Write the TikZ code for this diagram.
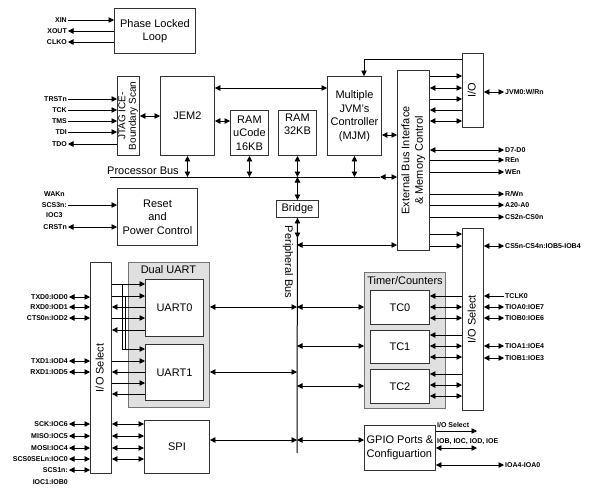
\documentclass[tikz,border=0pt]{standalone}
\usepackage{fontspec}
\setmainfont{Liberation Sans}
\usetikzlibrary{arrows.meta,positioning}
\newcommand{\vstack}[2][90]{\rotatebox{#1}{\begin{tabular}{@{}c@{}}#2\end{tabular}}}

\begin{document}
\begin{tikzpicture}[
  x=1pt, y=-1pt,
  box/.style={draw=black!80, line width=0.9pt, fill=white, align=center, inner sep=0pt, anchor=north west, font=\fontsize{11}{13.5}\selectfont},
  grp/.style={draw=black!55, line width=0.9pt, fill=black!12, anchor=north west, inner sep=0pt},
  title/.style={font=\fontsize{11}{13}\selectfont, inner sep=0pt},
  lpin/.style={font=\fontsize{7}{10.5}\selectfont\bfseries, align=center, inner sep=1pt, anchor=east},
  rpin/.style={font=\fontsize{7}{10.5}\selectfont\bfseries, inner sep=1pt, anchor=west},
  arrow/.style={-{Triangle[length=5.5pt,width=5.5pt]}, line width=0.8pt},
  biarrow/.style={{Triangle[length=5.5pt,width=5.5pt]}-{Triangle[length=5.5pt,width=5.5pt]}, line width=0.8pt},
  bus/.style={line width=1pt}
]
\useasboundingbox (0,0) rectangle (596,491);

% Groups
\node[grp, minimum width=81pt, minimum height=145pt] (uartg) at (128,262) {};
\node[grp, minimum width=81pt, minimum height=136pt] (timg) at (364,272) {};
\node[title] (uartt) at (168.5,270) {Dual UART};
\node[title] (timt) at (405,281) {Timer/Counters};

% Blocks
\node[box, minimum width=81pt, minimum height=45pt] (pll) at (114,8) {Phase Locked\\Loop};
\node[box, minimum width=22pt, minimum height=79pt, font=\fontsize{10}{10.5}\selectfont] (jtag) at (117,76) {\vstack{JTAG ICE-\\Boundary Scan}};
\node[box, minimum width=54pt, minimum height=79pt] (jem) at (160,76) {JEM2};
\node[box, minimum width=38pt, minimum height=45pt] (ramu) at (230,110) {RAM\\uCode\\16KB};
\node[box, minimum width=38pt, minimum height=45pt] (ram) at (278,110) {RAM\\32KB\\\strut};
\node[box, minimum width=54pt, minimum height=79pt] (mjm) at (327,76) {Multiple\\JVM's\\Controller\\(MJM)};
\node[box, minimum width=32pt, minimum height=180pt] (ebi) at (397,70) {\vstack{External Bus Interface\\\& Memory Control}};
\node[box, minimum width=21pt, minimum height=74pt] (ioa) at (462,53) {\vstack{I/O}};
\node[box, minimum width=21pt, minimum height=182pt] (iob) at (462,228) {\vstack{I/O Select}};
\node[box, minimum width=80pt, minimum height=57pt] (reset) at (117,188) {Reset\\and\\Power Control};
\node[box, minimum width=42pt, minimum height=17pt] (bridge) at (276,200) {Bridge};
\node[box, minimum width=21pt, minimum height=211pt] (ioc) at (90,262) {\vstack{I/O Select}};
\node[box, minimum width=58pt, minimum height=57pt] (uart0) at (145,279) {UART0};
\node[box, minimum width=58pt, minimum height=56pt] (uart1) at (145,344) {UART1};
\node[box, minimum width=65pt, minimum height=53pt] (spi) at (144,420) {SPI};
\node[box, minimum width=59pt, minimum height=34pt] (tc0) at (370,290) {TC0};
\node[box, minimum width=59pt, minimum height=33pt] (tc1) at (370,330) {TC1};
\node[box, minimum width=59pt, minimum height=34pt] (tc2) at (370,369) {TC2};
\node[box, minimum width=71pt, minimum height=45pt, align=left] (gpio) at (364,425) {GPIO Ports \&\\Configuartion};

% Bus labels
\node[title, anchor=south west] (pbl) at (107,175) {Processor Bus};
\node[title, rotate=-90] (pbusl) at (288,262) {Peripheral Bus};
\coordinate (pb0) at (110,177);
\coordinate (pb1) at (380,177);
\coordinate (pbb) at (297,453);

% Left pins
\node[lpin] (xin) at (68,20) {XIN};
\node[lpin] (xout) at (68,31) {XOUT};
\node[lpin] (clko) at (68,42) {CLKO};
\node[lpin] (trst) at (68,99) {TRSTn};
\node[lpin] (tck) at (68,110) {TCK};
\node[lpin] (tms) at (68,121) {TMS};
\node[lpin] (tdi) at (68,132) {TDI};
\node[lpin] (tdo) at (68,144) {TDO};
\node[lpin] (wak) at (68,205) {WAKn\\SCS3n:\\IOC3};
\node[lpin] (crst) at (68,227) {CRSTn};
\node[lpin] (txd0) at (69,297) {TXD0:IOD0};
\node[lpin] (rxd0) at (69,307) {RXD0:IOD1};
\node[lpin] (cts0) at (69,318) {CTS0n:IOD2};
\node[lpin] (txd1) at (69,361) {TXD1:IOD4};
\node[lpin] (rxd1) at (69,372) {RXD1:IOD5};
\node[lpin] (sck) at (69,424) {SCK:IOC6};
\node[lpin] (miso) at (69,436) {MISO:IOC5};
\node[lpin] (mosi) at (69,448) {MOSI:IOC4};
\node[lpin] (scs0) at (69,459) {SCS0SELn:IOC0};
\node[lpin] (scs1) at (69,470) {SCS1n:};
\node[lpin] (ioc1) at (69,482) {IOC1:IOB0};

% Right pins
\node[rpin] (jvm) at (504,92) {JVM0:W/Rn};
\node[rpin] (d70) at (504,150) {D7-D0};
\node[rpin] (ren) at (504,160) {REn};
\node[rpin] (wen) at (504,172) {WEn};
\node[rpin] (rwn) at (504,194) {R/Wn};
\node[rpin] (addr) at (504,205) {A20-A0};
\node[rpin] (cs20) at (504,217) {CS2n-CS0n};
\node[rpin] (cs54) at (504,246) {CS5n-CS4n:IOB5-IOB4};
\node[rpin] (tclk) at (504,296) {TCLK0};
\node[rpin] (tioa0) at (504,307) {TIOA0:IOE7};
\node[rpin] (tiob0) at (504,318) {TIOB0:IOE6};
\node[rpin] (tioa1) at (504,346) {TIOA1:IOE4};
\node[rpin] (tiob1) at (504,358) {TIOB1:IOE3};
\node[rpin] (ioa4) at (504,465) {IOA4-IOA0};
\node[rpin, anchor=south west] (gsel) at (436,429) {I/O Select};
\node[rpin, anchor=south west] (gports) at (436,446) {IOB, IOC, IOD, IOE};
\coordinate (gsele) at (477,431);
\coordinate (gportse) at (477,448);

% Clock and JTAG
\draw[arrow] (xin.east) -- (xin -| pll.west);
\draw[arrow] (xout -| pll.west) -- (xout.east);
\draw[arrow] (clko -| pll.west) -- (clko.east);
\foreach \p in {trst,tck,tms,tdi} \draw[arrow] (\p.east) -- (\p -| jtag.west);
\draw[arrow] (tdo -| jtag.west) -- (tdo.east);
\draw[biarrow] (jtag.east |- 0,116) -- (jem.west |- 0,116);

% Core
\draw[biarrow] (jem.east |- 0,88) -- (mjm.west |- 0,88);
\draw[biarrow] (jem.east |- 0,121) -- (ramu.west |- 0,121);
\draw[biarrow] (mjm.east |- 0,135) -- (ebi.west |- 0,135);
\draw[arrow] (ioa.west |- 0,59) -| (mjm.north -| 364,0);
\foreach \y in {76,99} \draw[arrow] (ebi.east |- 0,\y) -- (ioa.west |- 0,\y);
\foreach \y in {88,121} \draw[biarrow] (ebi.east |- 0,\y) -- (ioa.west |- 0,\y);
\draw[arrow] (ioa.west |- 0,110) -- (ebi.east |- 0,110);
\draw[biarrow] (ioa.east |- jvm) -- (jvm.west);
\draw[biarrow] (ebi.east |- d70) -- (d70.west);
\foreach \p in {ren,wen,rwn,addr,cs20} \draw[arrow] (ebi.east |- \p) -- (\p.west);
\foreach \y in {234,246} \draw[arrow] (ebi.east |- 0,\y) -- (iob.west |- 0,\y);
\draw[biarrow] (iob.east |- cs54) -- (cs54.west);

% Processor bus
\draw[bus] (pb0) -- (pb1);
\draw[biarrow] (pb1) -- (ebi.west |- pb1);
\foreach \n in {jem,ramu,ram,mjm} \draw[biarrow] (\n) -- (\n |- pb0);
\draw[biarrow] (bridge |- pb0) -- (bridge);

% Reset
\draw[arrow] (wak.east) -- (wak -| reset.west);
\draw[biarrow] (crst.east) -- (crst -| reset.west);

% Peripheral bus
\draw[bus] (bridge.south) -- (pbb);
\draw[biarrow] (bridge) -- (bridge |- 0,238);
\draw[biarrow] (pbb |- 0,245) -- (ebi.west |- 0,245);
\foreach \y in {307,372} \draw[biarrow] (uartg.east |- 0,\y) -- (pbb |- 0,\y);
\foreach \y in {307,346,386} \draw[biarrow] (pbb |- 0,\y) -- (timg.west |- 0,\y);
\draw[biarrow] (spi.east |- 0,440) -- (pbb |- 0,440);
\draw[biarrow] (pbb |- 0,440) -- (gpio.west |- 0,440);

% UART and SPI
\foreach \p in {txd0,rxd0,cts0,txd1,rxd1,sck,miso,mosi,scs0,scs1} \draw[biarrow] (\p.east) -- (\p -| ioc.west);
\foreach \y in {284,296,318} \draw[arrow] (ioc.east |- 0,\y) -- (uart0.west |- 0,\y);
\foreach \y in {307,330} \draw[arrow] (uart0.west |- 0,\y) -- (ioc.east |- 0,\y);
\foreach \y in {361,383} \draw[arrow] (ioc.east |- 0,\y) -- (uart1.west |- 0,\y);
\foreach \y in {372,394} \draw[arrow] (uart1.west |- 0,\y) -- (ioc.east |- 0,\y);
\coordinate (br0) at (122,284);
\coordinate (br1) at (125,296);
\draw[arrow] (br0) |- (uart1.west |- 0,349);
\draw[line width=0.8pt] (br1) -- (br1 |- 0,349);
\foreach \y in {424,436,448,459} \draw[biarrow] (ioc.east |- 0,\y) -- (spi.west |- 0,\y);

% Timers and GPIO
\foreach \t/\y in {tc0/296,tc1/335,tc2/374}{
  \draw[arrow] (iob.west |- 0,\y) -- (\t.east |- 0,\y);
  \draw[biarrow] (\t.east |- 0,\y+11) -- (iob.west |- 0,\y+11);
  \draw[biarrow] (\t.east |- 0,\y+22) -- (iob.west |- 0,\y+22);
}
\draw[arrow] (tclk.west) -- (iob.east |- tclk);
\foreach \p in {tioa0,tiob0,tioa1,tiob1} \draw[biarrow] (iob.east |- \p) -- (\p.west);
\draw[arrow] (gpio.east |- gsele) -- (gsele);
\draw[biarrow] (gpio.east |- gportse) -- (gportse);
\draw[biarrow] (gpio.east |- ioa4) -- (ioa4.west);

\end{tikzpicture}
\end{document}
